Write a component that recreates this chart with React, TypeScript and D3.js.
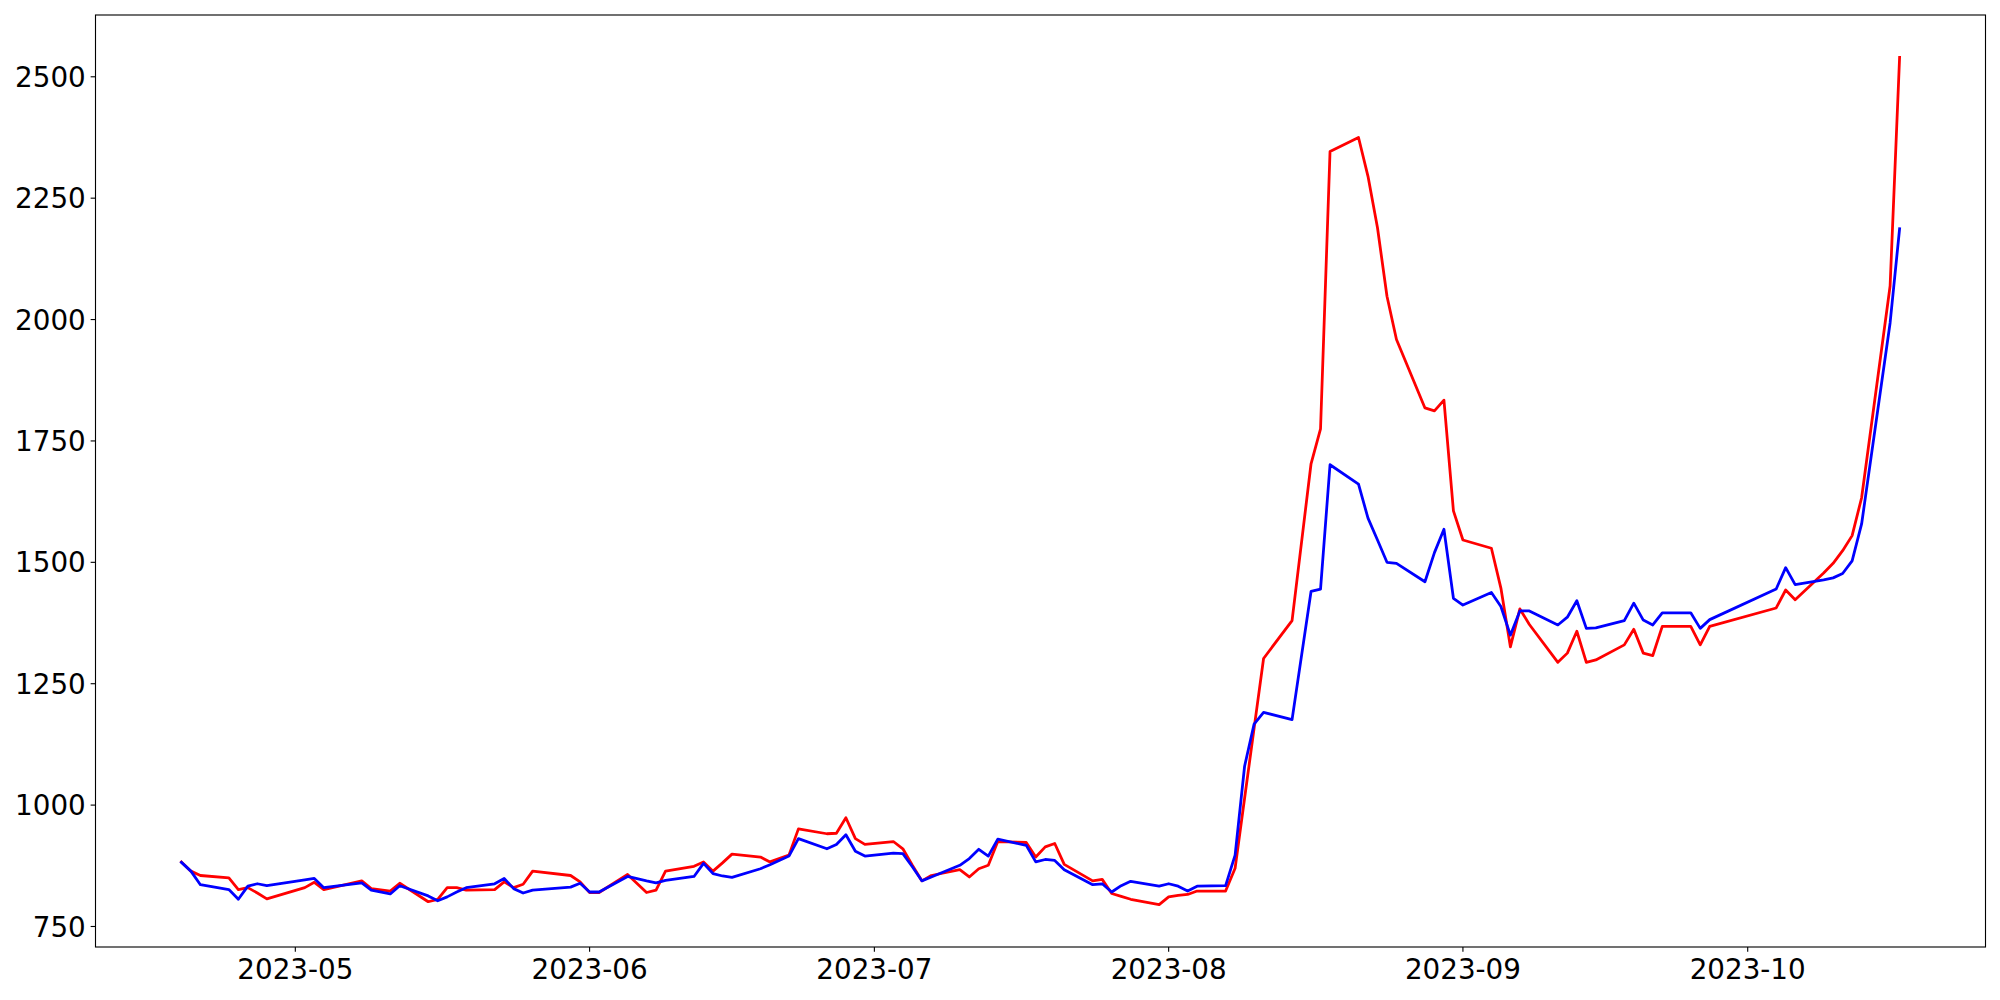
import React from "react";
import * as d3 from "d3";

const dates: string[] = [
  "2023-04-19","2023-04-20","2023-04-21","2023-04-24","2023-04-25","2023-04-26","2023-04-27","2023-04-28",
  "2023-05-02","2023-05-03","2023-05-04","2023-05-08","2023-05-09","2023-05-11","2023-05-12",
  "2023-05-15","2023-05-16","2023-05-17","2023-05-18","2023-05-19","2023-05-22","2023-05-23","2023-05-24",
  "2023-05-25","2023-05-26","2023-05-30","2023-05-31","2023-06-01","2023-06-02","2023-06-05","2023-06-07",
  "2023-06-08","2023-06-09","2023-06-12","2023-06-13","2023-06-14","2023-06-15","2023-06-16","2023-06-19",
  "2023-06-20","2023-06-22","2023-06-23","2023-06-26","2023-06-27","2023-06-28","2023-06-29","2023-06-30",
  "2023-07-03","2023-07-04","2023-07-05","2023-07-06","2023-07-07","2023-07-10","2023-07-11","2023-07-12",
  "2023-07-13","2023-07-14","2023-07-17","2023-07-18","2023-07-19","2023-07-20","2023-07-21","2023-07-24",
  "2023-07-25","2023-07-26","2023-07-27","2023-07-28","2023-07-31","2023-08-01","2023-08-02","2023-08-03",
  "2023-08-04","2023-08-07","2023-08-08","2023-08-09","2023-08-10","2023-08-11","2023-08-14","2023-08-16",
  "2023-08-17","2023-08-18","2023-08-21","2023-08-22","2023-08-23","2023-08-24","2023-08-25","2023-08-28",
  "2023-08-29","2023-08-30","2023-08-31","2023-09-01","2023-09-04","2023-09-05","2023-09-06","2023-09-07",
  "2023-09-08","2023-09-11","2023-09-12","2023-09-13","2023-09-14","2023-09-15","2023-09-18","2023-09-19",
  "2023-09-20","2023-09-21","2023-09-22","2023-09-25","2023-09-26","2023-09-27","2023-10-04","2023-10-05",
  "2023-10-06","2023-10-09","2023-10-10","2023-10-11","2023-10-12","2023-10-13","2023-10-16","2023-10-17",
];

const redValues: number[] = [
  883, 864, 855, 850, 826, 830, 819, 807,
  830, 841, 826, 844, 828, 823, 839,
  801, 806, 830, 830, 825, 826, 842, 830,
  837, 864, 855, 842, 820, 820, 857, 820,
  825, 864, 874, 883, 864, 881, 899, 893,
  883, 897, 951, 941, 942, 974, 931, 919,
  925, 910, 876, 844, 855, 867, 852, 869,
  876, 925, 923, 893, 914, 921, 878, 844,
  847, 818, 812, 806, 795, 811, 814, 816,
  823, 823, 870, 1014, 1158, 1302, 1380, 1703,
  1775, 2346, 2375, 2295, 2189, 2048, 1959, 1818,
  1812, 1834, 1606, 1546, 1529, 1447, 1326, 1404,
  1372, 1294, 1313, 1358, 1294, 1299, 1330, 1362,
  1313, 1308, 1368, 1368, 1330, 1368, 1406, 1443,
  1423, 1478, 1498, 1524, 1555, 1633, 2069, 2540,
];

const blueValues: number[] = [
  882, 864, 836, 826, 806, 833, 838, 834,
  846, 849, 830, 840, 825, 817, 834,
  813, 803, 811, 821, 830, 838, 849, 828,
  819, 825, 831, 839, 821, 821, 853, 844,
  840, 845, 853, 880, 859, 854, 851, 869,
  877, 895, 931, 910, 919, 939, 905, 895,
  901, 900, 873, 844, 852, 876, 890, 909,
  895, 930, 917, 883, 888, 886, 867, 836,
  838, 821, 834, 843, 833, 838, 833, 823,
  833, 834, 897, 1080, 1167, 1191, 1176, 1440,
  1445, 1701, 1661, 1591, 1546, 1500, 1498, 1460,
  1520, 1568, 1426, 1412, 1438, 1409, 1350, 1400,
  1400, 1371, 1387, 1421, 1364, 1365, 1380, 1416,
  1381, 1371, 1396, 1396, 1364, 1382, 1445, 1489,
  1454, 1464, 1468, 1477, 1503, 1579, 1993, 2187,
];

const yTicks: number[] = [750, 1000, 1250, 1500, 1750, 2000, 2250, 2500];
const xTickLabels: string[] = ["2023-05", "2023-06", "2023-07", "2023-08", "2023-09", "2023-10"];

const W = 2000;
const H = 1000;
const left = 95.5;
const right = 1985.5;
const top = 15;
const bottom = 947;
const FONT = 27.78;

export default function App() {
  const parse = d3.utcParse("%Y-%m-%d");
  const parsed = dates.map((d) => parse(d) as Date);
  const tMin = +parsed[0];
  const tMax = +parsed[parsed.length - 1];
  const tPad = (tMax - tMin) * 0.05;
  const x = d3.scaleUtc().domain([new Date(tMin - tPad), new Date(tMax + tPad)]).range([left, right]);

  const allVals = redValues.concat(blueValues);
  const vMin = d3.min(allVals) as number;
  const vMax = d3.max(allVals) as number;
  const vPad = (vMax - vMin) * 0.05;
  const y = d3.scaleLinear().domain([vMin - vPad, vMax + vPad]).range([bottom, top]);

  const line = d3
    .line<number>()
    .x((_, i) => x(parsed[i]))
    .y((v) => y(v));

  const tickLen = 4.86;
  const pad = 4.86;

  return (
    <div style={{ position: "absolute", left: 0, top: 0 }}>
      <svg width={W} height={H} style={{ display: "block", background: "#fff" }} fontFamily="DejaVu Sans">
        <rect x={0} y={0} width={W} height={H} fill="#fff" />
        <path d={line(redValues) || ""} fill="none" stroke="#ff0000" strokeWidth={2.78} strokeLinejoin="round" strokeLinecap="square" />
        <path d={line(blueValues) || ""} fill="none" stroke="#0000ff" strokeWidth={2.78} strokeLinejoin="round" strokeLinecap="square" />
        <rect x={left} y={top} width={right - left} height={bottom - top} fill="none" stroke="#000" strokeWidth={1.11} />
        {yTicks.map((t) => (
          <g key={"y" + t}>
            <line x1={left - tickLen} x2={left} y1={y(t)} y2={y(t)} stroke="#000" strokeWidth={1.11} />
            <text x={left - tickLen - pad} y={y(t) + 10.1} textAnchor="end" fontSize={FONT} fill="#000">
              {t}
            </text>
          </g>
        ))}
        {xTickLabels.map((lab) => {
          const d = parse(lab + "-01") as Date;
          const px = x(d);
          return (
            <g key={lab}>
              <line x1={px} x2={px} y1={bottom} y2={bottom + tickLen} stroke="#000" strokeWidth={1.11} />
              <text x={px} y={bottom + 31.5} textAnchor="middle" fontSize={FONT} fill="#000">
                {lab}
              </text>
            </g>
          );
        })}
      </svg>
    </div>
  );
}
